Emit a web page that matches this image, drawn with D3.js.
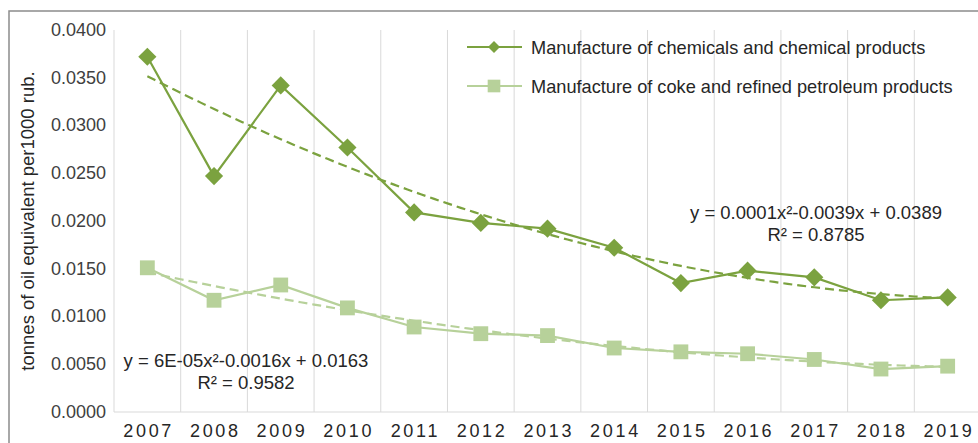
<!DOCTYPE html>
<html><head><meta charset="utf-8">
<script src="https://cdn.jsdelivr.net/npm/d3@7/dist/d3.min.js"></script>
<style>body{margin:0;background:#fff}svg{display:block;font-family:"Liberation Sans",Arial,sans-serif}</style>
</head><body><svg id="c" width="978" height="443"></svg>
<script>
const years = ["2007","2008","2009","2010","2011","2012","2013","2014","2015","2016","2017","2018","2019"];
const chemicals = [0.0372,0.0247,0.0342,0.0277,0.0209,0.0198,0.0192,0.0172,0.0135,0.0148,0.0141,0.0117,0.0120];
const coke = [0.0151,0.0117,0.0133,0.0109,0.0089,0.0082,0.0080,0.0067,0.0063,0.0061,0.0055,0.0045,0.0048];
const yTicks = [0,0.005,0.01,0.015,0.02,0.025,0.03,0.035,0.04];
const seriesNames = ["Manufacture of chemicals and chemical products","Manufacture of coke and refined petroleum products"];
const eqChem = ["y = 0.0001x²-0.0039x + 0.0389","R² = 0.8785"];
const eqCoke = ["y = 6E-05x²-0.0016x + 0.0163","R² = 0.9582"];

(function(){
const svg = d3.select("#c");
const C1 = "#7ba23f", C2 = "#b7d19a";
const pL = 114, pR = 981, pT = 30, pB = 412;

svg.append("rect").attr("x",9).attr("y",11).attr("width",1000).attr("height",500)
  .attr("fill","none").attr("stroke","#8c8c8c").attr("stroke-width",1.5);

const x = d3.scaleBand().domain(years).range([pL,pR]);
const y = d3.scaleLinear().domain([0,0.04]).range([pB,pT]);
const xc = d => x(d)+x.bandwidth()/2;

const bounds = years.map(d=>x(d)).concat([pR]);
svg.append("g").selectAll("line").data(bounds).join("line")
  .attr("x1",d=>d).attr("x2",d=>d).attr("y1",pT).attr("y2",pB)
  .attr("stroke","#d9d9d9").attr("stroke-width",1);
svg.append("line").attr("x1",pL).attr("x2",pR).attr("y1",pB).attr("y2",pB)
  .attr("stroke","#d9d9d9").attr("stroke-width",1.2);

const ya = svg.append("g").attr("transform",`translate(${pL-8},0)`)
  .call(d3.axisLeft(y).tickValues(yTicks).tickFormat(d3.format(".4f")).tickSize(0).tickPadding(0));
ya.select(".domain").remove();
ya.selectAll("text").attr("font-size",18).attr("fill","#404040").attr("dy","0.3em").attr("font-family","Liberation Sans, Arial, sans-serif");

const xa = svg.append("g").attr("transform",`translate(0,${pB})`)
  .call(d3.axisBottom(x).tickSize(0).tickPadding(12));
xa.select(".domain").remove();
xa.selectAll("text").attr("font-size",18).attr("fill","#262626").attr("letter-spacing","2.7px")
  .attr("font-family","Liberation Sans, Arial, sans-serif").attr("dx","1.3px");

svg.append("text").attr("transform","translate(34,221) rotate(-90)").attr("text-anchor","middle")
  .attr("font-size",18.5).attr("fill","#262626").text("tonnes of oil equivalent per1000 rub.");

function quadFit(vals){
  let S=[0,0,0,0,0], T=[0,0,0];
  vals.forEach((v,i)=>{const t=i+1; for(let k=0;k<5;k++) S[k]+=Math.pow(t,k); for(let k=0;k<3;k++) T[k]+=v*Math.pow(t,k);});
  const A=[[S[0],S[1],S[2],T[0]],[S[1],S[2],S[3],T[1]],[S[2],S[3],S[4],T[2]]];
  for(let i=0;i<3;i++){for(let j=i+1;j<3;j++){const f=A[j][i]/A[i][i];for(let k=i;k<4;k++)A[j][k]-=f*A[i][k];}}
  const c=[0,0,0];
  for(let i=2;i>=0;i--){let s=A[i][3];for(let k=i+1;k<3;k++)s-=A[i][k]*c[k];c[i]=s/A[i][i];}
  return t=>c[0]+c[1]*t+c[2]*t*t;
}
const tScale = d3.scaleLinear().domain([1,years.length]).range([xc(years[0]),xc(years[years.length-1])]);
function trend(vals,color){
  const f = quadFit(vals);
  const pts = d3.range(1,years.length+0.001,0.1).map(t=>[tScale(t),y(f(t))]);
  svg.append("path").attr("d",d3.line()(pts)).attr("fill","none").attr("stroke",color)
    .attr("stroke-width",2.2).attr("stroke-dasharray","9,5");
}
trend(coke,C2);
trend(chemicals,C1);

const line = d3.line().x((d,i)=>xc(years[i])).y(d=>y(d));
svg.append("path").attr("d",line(coke)).attr("fill","none").attr("stroke",C2).attr("stroke-width",2.2);
svg.append("path").attr("d",line(chemicals)).attr("fill","none").attr("stroke",C1).attr("stroke-width",2.2);

svg.append("g").selectAll("path").data(coke).join("path")
  .attr("transform",(d,i)=>`translate(${xc(years[i])},${y(d)})`).attr("d",d3.symbol().type(d3.symbolSquare).size(220)).attr("fill",C2);
svg.append("g").selectAll("path").data(chemicals).join("path")
  .attr("transform",(d,i)=>`translate(${xc(years[i])},${y(d)}) rotate(45)`).attr("d",d3.symbol().type(d3.symbolSquare).size(165)).attr("fill",C1);

const lg = [{n:seriesNames[0],c:C1,m:"d",yy:47},{n:seriesNames[1],c:C2,m:"s",yy:86}];
lg.forEach(l=>{
  svg.append("line").attr("x1",467).attr("x2",522).attr("y1",l.yy).attr("y2",l.yy).attr("stroke",l.c).attr("stroke-width",2.2);
  if(l.m==="d") svg.append("path").attr("transform",`translate(494,${l.yy}) rotate(45)`).attr("d",d3.symbol().type(d3.symbolSquare).size(72)).attr("fill",l.c);
  else svg.append("path").attr("transform",`translate(494,${l.yy})`).attr("d",d3.symbol().type(d3.symbolSquare).size(160)).attr("fill",l.c);
  svg.append("text").attr("x",531).attr("y",l.yy+6.5).attr("font-size",18.2).attr("fill","#262626").text(l.n);
});

function eq(lines,cx,cy){
  lines.forEach((t,i)=>svg.append("text").attr("x",cx).attr("y",cy+i*22).attr("text-anchor","middle")
    .attr("font-size",18.5).attr("fill","#262626").text(t));
}
eq(eqChem,816,218.5);
eq(eqCoke,246,366.5);
})();
</script></body></html>
